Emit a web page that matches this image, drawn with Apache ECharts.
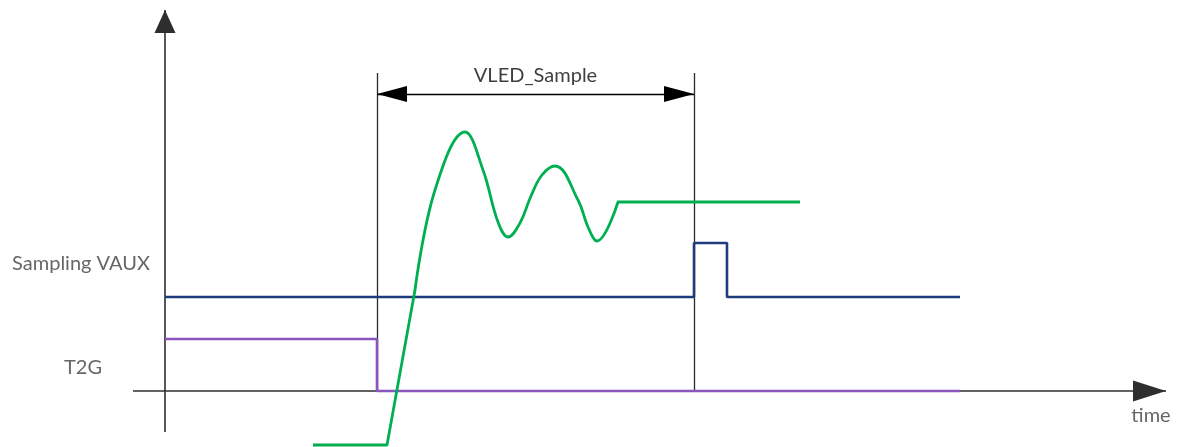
<!DOCTYPE html>
<html>
<head>
<meta charset="utf-8">
<script src="https://cdn.jsdelivr.net/npm/echarts@6/dist/echarts.min.js"></script>
<style>
  html, body { margin: 0; padding: 0; background: #fff; }
  #chart { width: 1178px; height: 447px; }
</style>
</head>
<body>
<div id="chart"></div>
<script>
// time (t) and level (v) values; origin is where the axes cross
const ledVoltageRamp = [[148, -54], [222, -54], [250, 101]];
const ledVoltageRing = [[250, 101], [270, 201], [300, 259], [318, 221], [333, 169], [343, 154],
                        [355, 168], [366, 195], [377, 216], [390, 225], [413, 191], [423, 164],
                        [432, 150], [453, 189]];
const ledVoltageHigh = [[453, 189], [635, 189]];
const samplingVaux   = [[0, 94], [529, 94], [529, 148], [562, 148], [562, 94], [795, 94]];
const t2g            = [[0, 52], [212, 52], [212, 0], [795, 0]];
const markerTimes    = [212, 529];
const markerTop      = 318;
const sampleArrowLevel = 297;
const signalLabels   = [
  { name: 'Sampling VAUX', value: [-84, 127] },
  { name: 'T2G', value: [-82, 23] },
  { name: 'time', value: [986, -25] }
];
const xAxisExtent = [-32, 1001];
const yAxisExtent = [-41, 381];

const FONT = 'Lato, "Open Sans", sans-serif';
const chart = echarts.init(document.getElementById('chart'), null, { renderer: 'canvas' });

function endPoint(coord, withArrow, size) {
  return withArrow
    ? { coord: coord, symbol: 'triangle', symbolSize: size, symbolOffset: [0, size[1] / 2] }
    : { coord: coord, symbol: 'none' };
}
function segment(from, to, style, opts) {
  opts = opts || {};
  const a = endPoint(from, !!opts.arrowStart, opts.size);
  const b = endPoint(to, !!opts.arrowEnd, opts.size);
  a.lineStyle = style;
  if (opts.label) a.label = opts.label;
  return [a, b];
}

const axisStyle   = { color: '#2e2e2e', width: 1.6, type: 'solid' };
const markerStyle = { color: '#2a2a2a', width: 1.3, type: 'solid' };

chart.setOption({
  animation: false,
  backgroundColor: '#ffffff',
  grid: { left: 0, right: 0, top: 0, bottom: 0, containLabel: false },
  xAxis: { type: 'value', min: -165, max: 1013, show: false },
  yAxis: { type: 'value', min: -56, max: 391, show: false },
  series: [
    {
      type: 'line', name: 'annotations', data: [], silent: true, z: 1,
      markLine: {
        silent: true, animation: false, z: 1,
        symbol: ['none', 'none'],
        label: { show: false },
        emphasis: { disabled: true },
        data: [
          segment([xAxisExtent[0], 0], [xAxisExtent[1], 0], axisStyle, { arrowEnd: true, size: [21, 33] }),
          segment([0, yAxisExtent[0]], [0, yAxisExtent[1]], axisStyle, { arrowEnd: true, size: [21, 23] }),
          segment([markerTimes[0], 0], [markerTimes[0], markerTop], markerStyle),
          segment([markerTimes[1], 0], [markerTimes[1], markerTop], markerStyle),
          segment([markerTimes[0], sampleArrowLevel], [markerTimes[1], sampleArrowLevel],
            { color: '#000000', width: 1.3, type: 'solid' },
            {
              arrowStart: true, arrowEnd: true, size: [16, 30],
              label: {
                show: true, formatter: 'VLED_Sample', position: 'insideMiddleTop', distance: 8,
                color: '#404040', fontFamily: FONT, fontSize: 20
              }
            })
        ]
      }
    },
    {
      type: 'line', name: 'T2G', data: t2g, showSymbol: false, silent: true, z: 3,
      lineStyle: { color: '#8A55BD', width: 2.6 }
    },
    {
      type: 'line', name: 'Sampling VAUX', data: samplingVaux, showSymbol: false, silent: true, z: 4,
      lineStyle: { color: '#1F3C7C', width: 2.6 }
    },
    {
      type: 'line', name: 'VLED ramp', data: ledVoltageRamp, showSymbol: false, silent: true, z: 5,
      lineStyle: { color: '#00B050', width: 2.8, join: 'round' }
    },
    {
      type: 'line', name: 'VLED ring', data: ledVoltageRing, showSymbol: false, silent: true, z: 5,
      smooth: 0.4,
      lineStyle: { color: '#00B050', width: 2.8, cap: 'round' }
    },
    {
      type: 'line', name: 'VLED high', data: ledVoltageHigh, showSymbol: false, silent: true, z: 5,
      lineStyle: { color: '#00B050', width: 2.8 }
    },
    {
      type: 'scatter', name: 'labels', data: signalLabels, symbolSize: 0, silent: true, z: 6,
      label: {
        show: true, position: 'inside', formatter: '{b}',
        color: '#404040', fontFamily: FONT, fontSize: 20
      }
    }
  ]
});
</script>
</body>
</html>
